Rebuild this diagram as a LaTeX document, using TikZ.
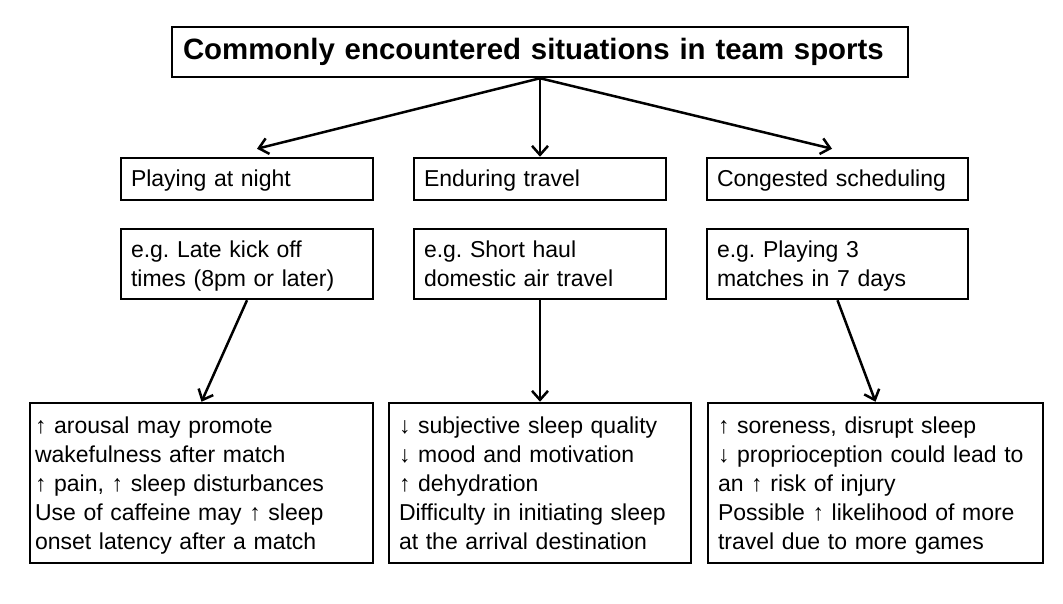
\documentclass[tikz,border=0pt]{standalone}
\usepackage{fontspec}
\setmainfont{Liberation Sans}
\usepackage{tikz}
\usetikzlibrary{arrows.meta}
\frenchspacing

\begin{document}
\begin{tikzpicture}[x=1pt,y=-1pt]
    \def\ya{179}
    \def\yb{264}
    \def\yc{483}

    \tikzstyle{header}=[draw=black,line width=2.5pt,font=\bfseries\fontsize{29.4}{34}\selectfont,align=left,text width=714pt,inner xsep=11pt,minimum height=50pt]
    \tikzstyle{sbox}=[draw=black,line width=2.5pt,font=\fontsize{23}{29}\selectfont,align=left,inner xsep=10pt,inner ysep=0pt,minimum height=42pt,
        execute at begin node={\rule{0pt}{22pt}},execute at end node={\rule[-6pt]{0pt}{6pt}}]
    \tikzstyle{ebox}=[sbox,minimum height=70pt]
    \tikzstyle{rbox}=[sbox,minimum height=160pt]

    \useasboundingbox (0,0) rectangle (1063,604);

    \node[header] (top) at (540,52) {Commonly encountered situations in team sports};

    \node[sbox,text width=232pt] (0s) at (247,\ya) {Playing at night};
    \node[sbox,text width=232pt] (1s) at (540,\ya) {Enduring travel};
    \node[sbox,text width=241pt] (2s) at (837.5,\ya) {Congested scheduling};

    \node[ebox,text width=232pt] (0e) at (247,\yb) {e.g. Late kick off\\times (8pm or later)};
    \node[ebox,text width=232pt] (1e) at (540,\yb) {e.g. Short haul\\domestic air travel};
    \node[ebox,text width=241pt] (2e) at (837.5,\yb) {e.g. Playing 3\\matches in 7 days};

    \node[rbox,text width=333pt,inner xsep=5pt] (0r) at (201.5,\yc) {↑ arousal may promote\\wakefulness after match\\↑ pain, ↑ sleep disturbances\\Use of caffeine may ↑ sleep\\onset latency after a match};
    \node[rbox,text width=282pt] (1r) at (540,\yc) {↓ subjective sleep quality\\↓ mood and motivation\\↑ dehydration\\Difficulty in initiating sleep\\at the arrival destination};
    \node[rbox,text width=315pt] (2r) at (875.5,\yc) {↑ soreness, disrupt sleep\\↓ proprioception could lead to\\an ↑ risk of injury\\Possible ↑ likelihood of more\\travel due to more games};

    \tikzstyle{fwd}=[draw=black,line width=2.5pt,-{Straight Barb[length=9pt,width=16pt]}]

    \draw [fwd] (top.south) -- ([shift={(10,-8)}]0s.north);
    \draw [fwd] (top.south) -- (1s.north);
    \draw [fwd] (top.south) -- ([shift={(-5.5,-8)}]2s.north);

    \draw [fwd] (0e.south) -- (0r.north);
    \draw [fwd] (1e.south) -- (1r.north);
    \draw [fwd] (2e.south) -- (2r.north);
\end{tikzpicture}
\end{document}
